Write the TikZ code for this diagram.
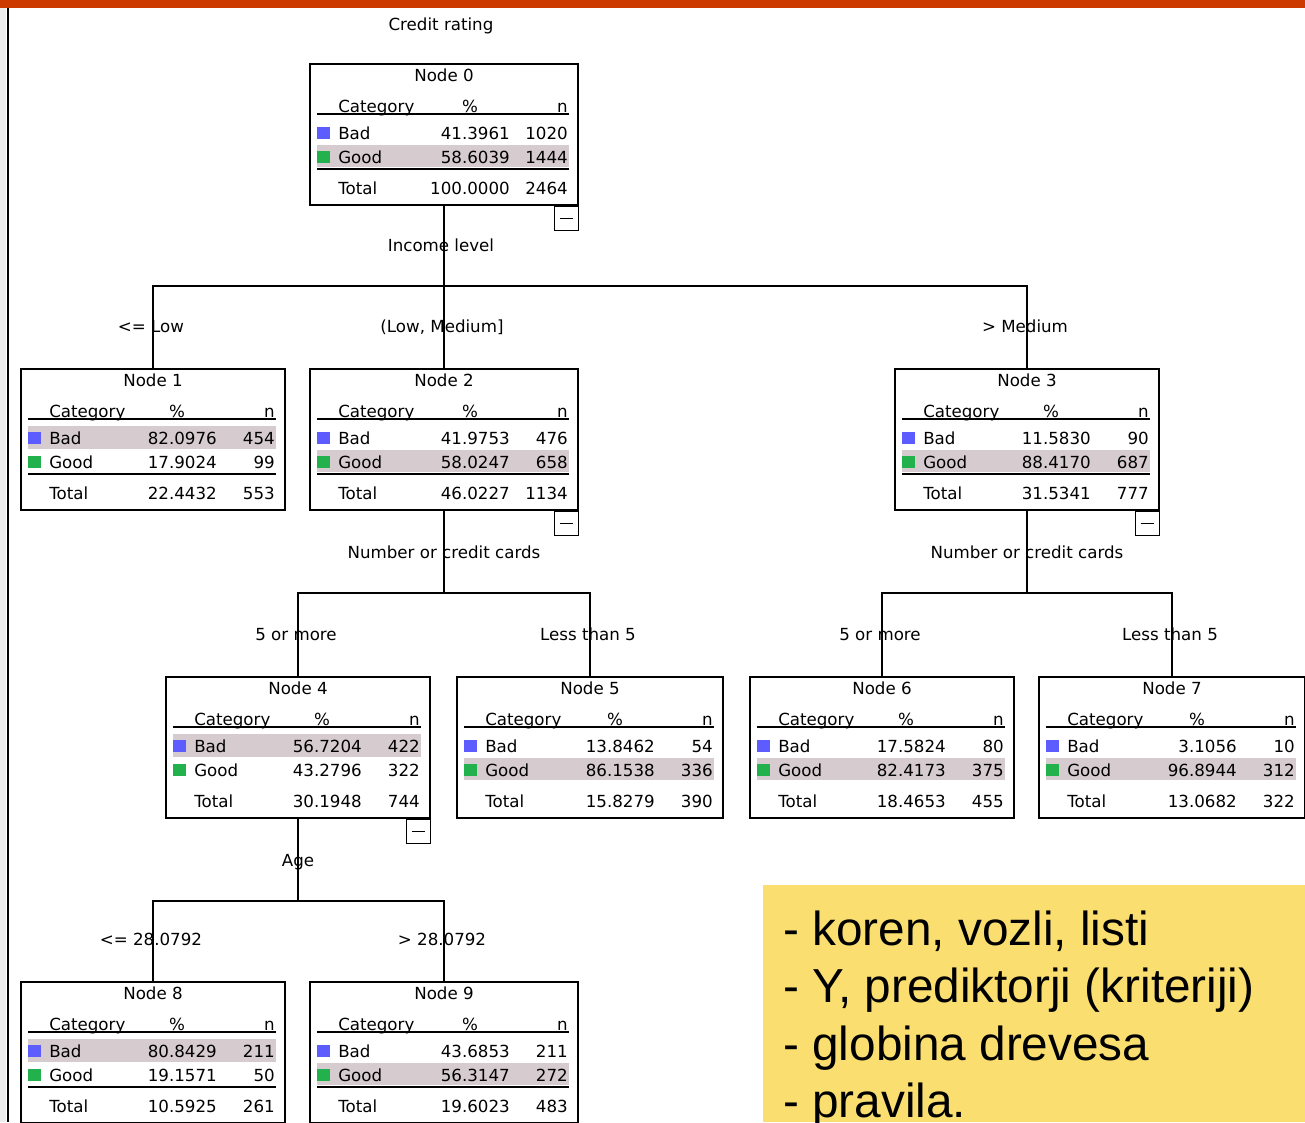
\documentclass[tikz,border=0pt]{standalone}
\usepackage{fontspec}
\setmainfont{DejaVu Sans}
\newfontfamily\notefont{Liberation Sans}
\usetikzlibrary{calc}
\usetikzlibrary{positioning}

\definecolor{barcolor}{RGB}{204,58,0}
\definecolor{notecolor}{RGB}{250,223,112}
\definecolor{badcolor}{RGB}{92,92,255}
\definecolor{goodcolor}{RGB}{34,177,76}
\definecolor{rowcolor}{RGB}{214,203,207}

\tikzset{
  treebox/.style={draw, line width=1.5pt, minimum height=141*0.75pt, inner sep=0pt, anchor=north west},
  toggle/.style={draw, line width=1.1pt, minimum width=24*0.75pt, minimum height=24*0.75pt, inner sep=0pt, anchor=north east},
  cell/.style={inner sep=0pt, font=\fontsize{12.5}{14}\selectfont},
  branch/.style={draw, line width=1.5pt},
}

\begin{document}
\begin{tikzpicture}[x=0.75pt, y=-0.75pt]
  \useasboundingbox (0,0) rectangle (1305,1122);

  % frame of the slide
  \fill[barcolor] (0,0) rectangle (1305,8);
  \fill[gray!15] (0,8) rectangle (6,1122);
  \draw[line width=1.5pt] (8,8) -- (8,1122);

  \node[cell, anchor=base] (target) at (441,30) {Credit rating};

  % tree nodes: name/left/top/width/bad %/bad n/good %/good n/total %/total n/shaded row/rule
  \foreach \nm/\lx/\ty/\w/\pb/\nb/\pg/\ng/\pt/\nt/\hl/\rl in {
      0/309/63/268/41.3961/1020/58.6039/1444/100.0000/2464/2/1,
      1/20/368/264/82.0976/454/17.9024/99/22.4432/553/1/1,
      2/309/368/268/41.9753/476/58.0247/658/46.0227/1134/2/1,
      3/894/368/264/11.5830/90/88.4170/687/31.5341/777/2/1,
      4/165/676/264/56.7204/422/43.2796/322/30.1948/744/1/0,
      5/456/676/266/13.8462/54/86.1538/336/15.8279/390/2/0,
      6/749/676/264/17.5824/80/82.4173/375/18.4653/455/2/0,
      7/1038/676/266/3.1056/10/96.8944/312/13.0682/322/2/0,
      8/20/981/264/80.8429/211/19.1571/50/10.5925/261/1/1,
      9/309/981/268/43.6853/211/56.3147/272/19.6023/483/2/1}{
    \node[treebox, minimum width=\w*0.75pt] (n\nm) at (\lx,\ty) {};
    \fill[rowcolor] ($(n\nm.north west)+(8,{58+24*(\hl-1)})$) rectangle ($(n\nm.north east)+(-10,{81+23*(\hl-1)})$);
    \node[cell, anchor=base] (n\nm-title) at ($(n\nm.north)+(0,18)$) {Node \nm};
    \node[cell, anchor=base west] (n\nm-cat) at ($(n\nm.north west)+(29,49)$) {Category};
    \node[cell, anchor=base] (n\nm-pc) at ($(n\nm.north east)+(-109,49)$) {\%};
    \node[cell, anchor=base east] (n\nm-n) at ($(n\nm.north east)+(-11,49)$) {n};
    \draw[line width=1.5pt] ($(n\nm.north west)+(8,51)$) -- ($(n\nm.north east)+(-10,51)$);
    % Bad row
    \fill[badcolor] ($(n\nm.north west)+(8,64)$) rectangle ++(13,12);
    \node[cell, anchor=base west] (n\nm-b) at ($(n\nm.north west)+(29,76)$) {Bad};
    \node[cell, anchor=base east] (n\nm-bp) at ($(n\nm.north east)+(-69,76)$) {\pb};
    \node[cell, anchor=base east] (n\nm-bn) at ($(n\nm.north east)+(-11,76)$) {\nb};
    % Good row
    \fill[goodcolor] ($(n\nm.north west)+(8,88)$) rectangle ++(13,12);
    \node[cell, anchor=base west] (n\nm-g) at ($(n\nm.north west)+(29,100)$) {Good};
    \node[cell, anchor=base east] (n\nm-gp) at ($(n\nm.north east)+(-69,100)$) {\pg};
    \node[cell, anchor=base east] (n\nm-gn) at ($(n\nm.north east)+(-11,100)$) {\ng};
    \ifnum\rl=1
      \draw[line width=2.2pt] ($(n\nm.north west)+(8,106)$) -- ($(n\nm.north east)+(-10,106)$);
    \fi
    % Total row
    \node[cell, anchor=base west] (n\nm-t) at ($(n\nm.north west)+(29,131)$) {Total};
    \node[cell, anchor=base east] (n\nm-tp) at ($(n\nm.north east)+(-69,131)$) {\pt};
    \node[cell, anchor=base east] (n\nm-tn) at ($(n\nm.north east)+(-11,131)$) {\nt};
  }

  % collapse buttons
  \foreach \nm in {0,2,3,4}{
    \node[toggle] (t\nm) at (n\nm.south east) {};
    \draw[line width=1.1pt] ($(t\nm.west)+(6,0)$) -- ($(t\nm.east)+(-6,0)$);
  }

  % splits
  \coordinate (s0) at ($(n0.south)+(0,80)$);
  \draw[branch] (n0.south) -- (s0);
  \draw[branch] (n1.north) |- (s0) -| (n3.north);
  \draw[branch] (s0) -- (n2.north);

  \coordinate (s2) at ($(n2.south)+(0,82)$);
  \draw[branch] (n2.south) -- (s2);
  \draw[branch] (n4.north) |- (s2) -| (n5.north);

  \coordinate (s3) at ($(n3.south)+(0,82)$);
  \draw[branch] (n3.south) -- (s3);
  \draw[branch] (n6.north) |- (s3) -| (n7.north);

  \coordinate (s4) at ($(n4.south)+(0,82)$);
  \draw[branch] (n4.south) -- (s4);
  \draw[branch] (n8.north) |- (s4) -| (n9.north);

  \node[cell, anchor=base] (q0) at ($(n0.south)+(-3,45)$) {Income level};
  \node[cell, anchor=base] (q2) at ($(n2.south)+(0,47)$) {Number or credit cards};
  \node[cell, anchor=base] (q3) at ($(n3.south)+(0,47)$) {Number or credit cards};
  \node[cell, anchor=base] (q4) at ($(n4.south)+(0,47)$) {Age};

  \foreach \nm/\txt in {1/{<= Low}, 2/{(Low, Medium]}, 3/{> Medium}, 4/{5 or more},
      5/{Less than 5}, 6/{5 or more}, 7/{Less than 5}, 8/{<= 28.0792}, 9/{> 28.0792}}
    \node[cell, anchor=base] (c\nm) at ($(n\nm.north)+(-2,-36)$) {\txt};

  % note
  \fill[notecolor] (763,885) rectangle (1305,1122);
  \foreach \i/\y/\txt in {1/945/{- koren, vozli, listi}, 2/1002/{- Y, prediktorji (kriteriji)},
      3/1060/{- globina drevesa}, 4/1117/{- pravila.}}
    \node[anchor=base west, inner sep=0pt, font=\notefont\fontsize{35.8}{40}\selectfont] (note\i) at (783,\y) {\txt};
\end{tikzpicture}
\end{document}
